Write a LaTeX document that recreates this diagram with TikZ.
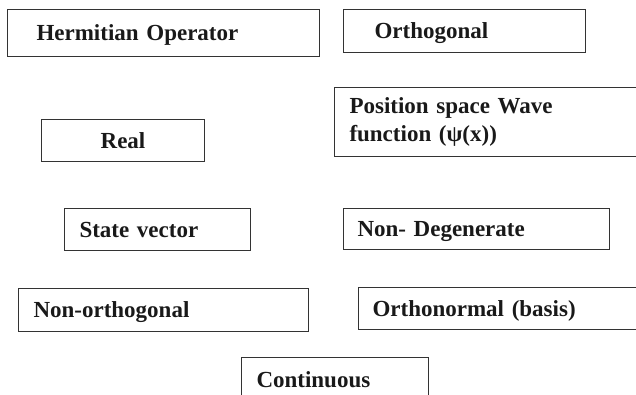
\documentclass[tikz,border=0pt]{standalone}
\usepackage{fontspec}
\setmainfont{Liberation Serif}
\usetikzlibrary{positioning}

\begin{document}
\begin{tikzpicture}[
            x = 1pt, y = -1pt, % pixel grid, y runs down
            every node/.style = {
                font = \fontsize{23}{28}\selectfont\bfseries,
                text = black!90
            },
            box/.style = {
                draw = black!80,
                line width = 1pt,
                anchor = north west,
                inner ysep = 0pt,
                align = left
            },
            oneline/.style = {
                text height = 15.5pt,
                text depth = 0pt
            }
        ]

        \useasboundingbox (0,0) rectangle (636,395);
        \clip (0,0) rectangle (636,395);

% left column
        \node[box, oneline, text width = 254pt, inner xsep = 29pt, minimum height = 47pt] (HERM) at (7,9) {Hermitian Operator};
        \node[box, oneline, text width = 143pt, inner xsep = 10pt, minimum height = 42pt, align = center] (REAL) at (41,119) {Real};
        \node[box, oneline, text width = 156pt, inner xsep = 15pt, minimum height = 42pt] (STATE) at (64,208) {State vector};
        \node[box, oneline, text width = 260pt, inner xsep = 15pt, minimum height = 43pt] (NONORTH) at (18,288) {Non-orthogonal};

% right column
        \node[box, oneline, text width = 180pt, inner xsep = 31pt, minimum height = 43pt] (ORTH) at (343,9) {Orthogonal};
        \node[box, text width = 280pt, inner xsep = 15pt, minimum height = 69pt] (POS) at (334,87) {Position space Wave\\function (ψ(x))};
        \node[box, oneline, text width = 238pt, inner xsep = 14pt, minimum height = 41pt] (NONDEG) at (343,208) {Non- Degenerate};
        \node[box, oneline, text width = 262pt, inner xsep = 14pt, minimum height = 42pt] (ORTHN) at (358,287) {Orthonormal (basis)};

% bottom
        \node[box, oneline, text width = 157pt, inner xsep = 15pt, minimum height = 44pt] (CONT) at (241,357) {Continuous};

\end{tikzpicture}
\end{document}
